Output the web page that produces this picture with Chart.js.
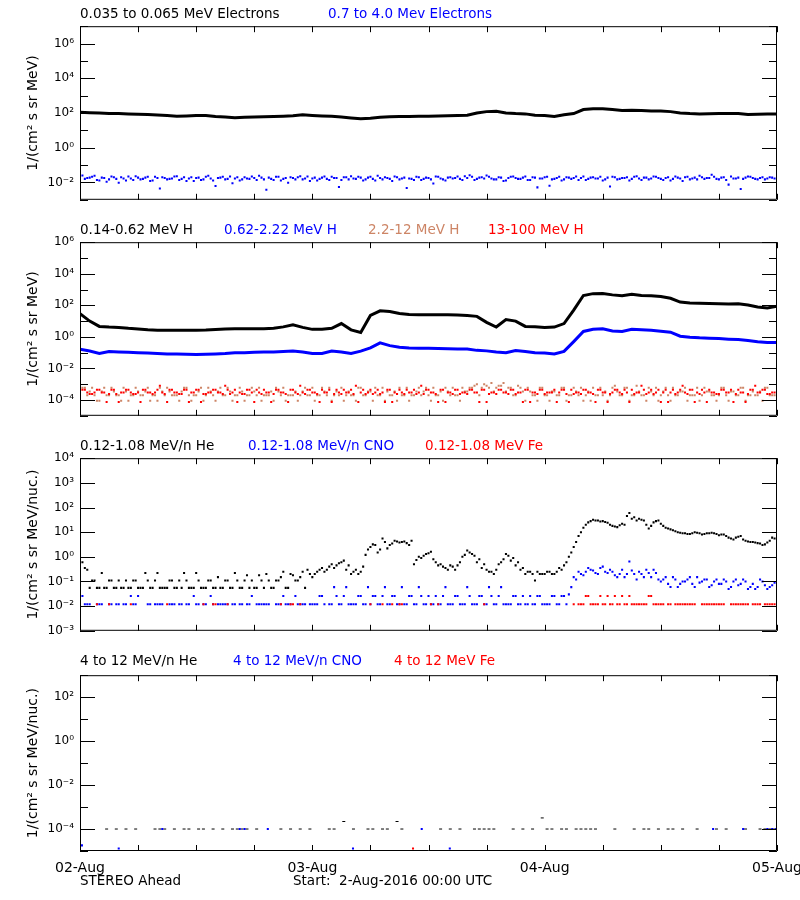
<!DOCTYPE html>
<html>
<head>
<meta charset="utf-8">
<script src="https://cdn.jsdelivr.net/npm/chart.js@4"></script>
<style>
body { margin: 0; background: #fff; }
#page { position: relative; width: 800px; height: 900px; overflow: hidden; }
canvas { position: absolute; left: 0; }
.lbl { position: absolute; white-space: pre; font-family: "DejaVu Sans", sans-serif; font-size: 13.5px; line-height: 13.5px; }
</style>
</head>
<body>
<div id="page">
  <canvas id="p1" width="800" height="200" style="top:13px"></canvas>
  <canvas id="p2" width="800" height="200" style="top:229px"></canvas>
  <canvas id="p3" width="800" height="199" style="top:445px"></canvas>
  <canvas id="p4" width="800" height="238" style="top:662px"></canvas>

  <div class="lbl" style="left:80px;top:7px;color:#000">0.035 to 0.065 MeV Electrons</div>
  <div class="lbl" style="left:328px;top:7px;color:#0000ff">0.7 to 4.0 Mev Electrons</div>

  <div class="lbl" style="left:80px;top:223px;color:#000">0.14-0.62 MeV H</div>
  <div class="lbl" style="left:224px;top:223px;color:#0000ff">0.62-2.22 MeV H</div>
  <div class="lbl" style="left:368px;top:223px;color:#cd8566">2.2-12 MeV H</div>
  <div class="lbl" style="left:488px;top:223px;color:#ff0000">13-100 MeV H</div>

  <div class="lbl" style="left:80px;top:439px;color:#000">0.12-1.08 MeV/n He</div>
  <div class="lbl" style="left:248px;top:439px;color:#0000ff">0.12-1.08 MeV/n CNO</div>
  <div class="lbl" style="left:425px;top:439px;color:#ff0000">0.12-1.08 MeV Fe</div>

  <div class="lbl" style="left:80px;top:654px;color:#000">4 to 12 MeV/n He</div>
  <div class="lbl" style="left:233px;top:654px;color:#0000ff">4 to 12 MeV/n CNO</div>
  <div class="lbl" style="left:394px;top:654px;color:#ff0000">4 to 12 MeV Fe</div>

  <div class="lbl" style="left:80px;top:874px;color:#000">STEREO Ahead</div>
  <div class="lbl" style="left:293px;top:874px;color:#000">Start:  2-Aug-2016 00:00 UTC</div>
</div>
<script>
// time axis: hours since 2-Aug-2016 00:00
const dayLabels = ['02-Aug', '03-Aug', '04-Aug', '05-Aug'];
const hourTimes = Array.from({length: 73}, (_, i) => i);
const halfHourStarts = Array.from({length: 144}, (_, i) => i / 2);
const halfHourTimes = Array.from({length: 144}, (_, i) => i / 2 + 0.25);

// panel 1 - electrons
const elecLow = [110,105,100,95,93,89,85,81,76,71,
  66,68,72,72,63,58,54,56,59,60,
  62,65,69,78,72,68,65,59,52,47,
  50,56,60,62,63,65,66,68,69,71,
  74,100,120,126,100,93,89,74,71,63,
  79,93,158,174,174,158,141,145,138,132,
  132,120,100,93,89,91,93,95,93,83,
  85,89,87];
const elecHigh = [0.025,0.018,0.021,0.014,0.019,0.011,0.022,0.016,0.02,0.013,
  0.017,0.023,0.015,0.019,0.012,0.021,0.0045,0.018,0.016,0.022,
  0.014,0.02,0.017,0.012,0.019,0.015,0.024,0.013,0.018,0.021,
  0.016,0.009,0.02,0.015,0.017,0.022,0.014,0.019,0.0038,0.016,
  0.021,0.013,0.018,0.02,0.015,0.023,0.017,0.012,0.019,0.016,
  0.022,0.014,0.018,0.0055,0.02,0.015,0.017,0.021,0.013,0.019,
  0.016,0.024,0.015,0.018,0.012,0.02,0.017,0.0048,0.016,0.021,
  0.014,0.019,0.015,0.022,0.017,0.013,0.02,0.018,0.016,0.023,
  0.026,0.014,0.019,0.017,0.021,0.015,0.02,0.012,0.018,0.022,
  0.016,0.019,0.014,0.02,0.0052,0.017,0.021,0.015,0.018,0.013,
  0.02,0.016,0.022,0.018,0.014,0.019,0.017,0.021,0.015,0.0058,
  0.02,0.016,0.018,0.013,0.021,0.017,0.019,0.015,0.022,0.018,
  0.014,0.02,0.016,0.019,0.012,0.021,0.017,0.015,0.02,0.018,
  0.028,0.016,0.019,0.014,0.022,0.017,0.0042,0.019,0.021,0.016,
  0.018,0.015,0.02,0.017];
const elecHighB = [0.021,0.016,0.019,0.024,0.013,0.018,0.015,0.02,0.0095,0.017,
  0.022,0.014,0.019,0.016,0.021,0.013,0.018,0.02,0.015,0.017,
  0.023,0.016,0.012,0.02,0.018,0.014,0.021,0.017,0.0062,0.019,
  0.015,0.022,0.017,0.013,0.02,0.016,0.018,0.024,0.015,0.019,
  0.014,0.021,0.016,0.0095,0.018,0.02,0.015,0.022,0.017,0.013,
  0.019,0.016,0.021,0.018,0.014,0.02,0.023,0.016,0.019,0.015,
  0.021,0.013,0.018,0.02,0.016,0.022,0.015,0.019,0.017,0.014,
  0.02,0.016,0.018,0.0088,0.021,0.015,0.019,0.017,0.022,0.014,
  0.018,0.021,0.016,0.02,0.025,0.017,0.015,0.019,0.013,0.021,
  0.018,0.016,0.022,0.014,0.019,0.017,0.02,0.0065,0.016,0.021,
  0.015,0.019,0.018,0.014,0.022,0.016,0.02,0.017,0.013,0.019,
  0.021,0.015,0.018,0.02,0.016,0.023,0.014,0.019,0.017,0.021,
  0.016,0.018,0.013,0.022,0.017,0.02,0.015,0.019,0.024,0.016,
  0.018,0.021,0.015,0.02,0.0075,0.017,0.019,0.016,0.022,0.018,
  0.015,0.02,0.017,0.019];

// panel 2 - protons
const protonA = [30,10,4.6,4.2,4.0,3.5,3.2,2.8,2.6,2.6,
  2.6,2.6,2.6,2.7,2.9,3.2,3.3,3.3,3.3,3.3,
  3.5,4.3,5.8,4.0,3.0,3.0,3.5,7.0,2.8,1.9,
  23,45,40,30,26,25,25,25,25,24,
  23,20,8.3,4.2,12.6,10,4.6,4.4,4.0,4.2,
  7,50,420,550,560,460,400,500,420,400,
  360,280,160,141,135,132,126,123,126,105,
  79,68,89];
const protonB = [0.166,0.126,0.089,0.12,0.112,0.105,0.1,0.095,0.089,0.083,
  0.083,0.079,0.076,0.079,0.083,0.089,0.1,0.1,0.105,0.11,
  0.112,0.117,0.126,0.112,0.089,0.089,0.126,0.112,0.089,0.126,
  0.2,0.42,0.28,0.22,0.2,0.19,0.19,0.186,0.178,0.174,
  0.17,0.14,0.13,0.11,0.1,0.135,0.12,0.1,0.095,0.083,
  0.12,0.5,2.2,3.0,3.3,2.4,2.2,3.0,2.8,2.6,
  2.3,2.0,1.1,0.95,0.87,0.83,0.78,0.72,0.68,0.6,
  0.5,0.44,0.44];
const protonC = [6e-4,2e-4,6e-4,9e-5,3.5e-4,2e-4,6e-4,2e-4,9e-5,3.5e-4,
  2e-4,6e-4,2e-4,3.5e-4,9e-5,2e-4,6e-4,2e-4,3.5e-4,2e-4,
  9e-5,6e-4,2e-4,2e-4,3.5e-4,9e-5,6e-4,2e-4,3.5e-4,2e-4,
  6e-4,9e-5,2e-4,3.5e-4,2e-4,6e-4,2e-4,9e-5,2e-4,3.5e-4,
  6e-4,2e-4,9e-5,2e-4,3.5e-4,2e-4,6e-4,2e-4,9e-5,2e-4,
  3.5e-4,6e-4,2e-4,2e-4,9e-5,3.5e-4,2e-4,6e-4,2e-4,3.5e-4,
  9e-5,2e-4,6e-4,3.5e-4,2e-4,9e-5,2e-4,6e-4,2e-4,3.5e-4,
  2e-4,6e-4,9e-5,2e-4,3.5e-4,6e-4,2e-4,2e-4,9e-5,3.5e-4,
  6e-4,8e-4,2e-4,1e-3,6e-4,3.5e-4,8e-4,1.2e-3,6e-4,2e-4,
  8e-4,3.5e-4,6e-4,2e-4,9e-5,6e-4,2e-4,3.5e-4,2e-4,6e-4,
  9e-5,2e-4,3.5e-4,6e-4,2e-4,9e-5,2e-4,6e-4,3.5e-4,2e-4,
  8e-4,2e-4,6e-4,9e-5,2e-4,3.5e-4,2e-4,6e-4,2e-4,9e-5,
  3.5e-4,2e-4,6e-4,2e-4,3.5e-4,9e-5,2e-4,6e-4,2e-4,3.5e-4,
  2e-4,9e-5,6e-4,2e-4,3.5e-4,2e-4,6e-4,9e-5,2e-4,2e-4,
  3.5e-4,6e-4,2e-4,2e-4];
const protonCB = [2e-4,6e-4,3.5e-4,2e-4,9e-5,6e-4,2e-4,3.5e-4,2e-4,6e-4,
  9e-5,2e-4,3.5e-4,2e-4,6e-4,2e-4,9e-5,3.5e-4,6e-4,2e-4,
  2e-4,3.5e-4,6e-4,9e-5,2e-4,6e-4,2e-4,3.5e-4,9e-5,6e-4,
  2e-4,3.5e-4,2e-4,6e-4,9e-5,2e-4,3.5e-4,6e-4,2e-4,2e-4,
  9e-5,3.5e-4,6e-4,2e-4,2e-4,9e-5,3.5e-4,2e-4,6e-4,2e-4,
  6e-4,2e-4,9e-5,3.5e-4,6e-4,2e-4,2e-4,9e-5,6e-4,2e-4,
  3.5e-4,6e-4,2e-4,9e-5,2e-4,3.5e-4,6e-4,2e-4,9e-5,2e-4,
  6e-4,3.5e-4,2e-4,6e-4,2e-4,9e-5,3.5e-4,6e-4,2e-4,6e-4,
  3.5e-4,6e-4,1e-3,6e-4,8e-4,1.2e-3,6e-4,8e-4,3.5e-4,6e-4,
  2e-4,6e-4,9e-5,3.5e-4,2e-4,6e-4,2e-4,9e-5,3.5e-4,2e-4,
  6e-4,2e-4,6e-4,2e-4,9e-5,3.5e-4,6e-4,2e-4,2e-4,9e-5,
  6e-4,3.5e-4,2e-4,6e-4,2e-4,8e-4,2e-4,9e-5,3.5e-4,6e-4,
  2e-4,6e-4,9e-5,2e-4,3.5e-4,6e-4,2e-4,2e-4,9e-5,6e-4,
  3.5e-4,2e-4,2e-4,6e-4,9e-5,3.5e-4,2e-4,6e-4,2e-4,3.5e-4,
  2e-4,9e-5,6e-4,2e-4];
const protonD = [4.5e-4,3e-4,2.4e-4,4.5e-4,3e-4,7.5e-5,4.5e-4,2.4e-4,3e-4,4.5e-4,
  3e-4,2.4e-4,7.5e-5,4.5e-4,3e-4,3e-4,8e-4,2.4e-4,4.5e-4,3e-4,
  2.4e-4,4.5e-4,7.5e-5,3e-4,4.5e-4,2.4e-4,3e-4,4.5e-4,3e-4,2.4e-4,
  4.5e-4,3e-4,7.5e-5,2.4e-4,4.5e-4,3e-4,4.5e-4,2.4e-4,3e-4,7.5e-5,
  4.5e-4,3e-4,2.4e-4,4.5e-4,3e-4,8e-4,2.4e-4,4.5e-4,3e-4,7.5e-5,
  3e-4,4.5e-4,2.4e-4,3e-4,4.5e-4,3e-4,2.4e-4,7.5e-5,4.5e-4,3e-4,
  2.4e-4,4.5e-4,3e-4,4.5e-4,7.5e-5,2.4e-4,3e-4,4.5e-4,3e-4,2.4e-4,
  8e-4,4.5e-4,3e-4,2.4e-4,4.5e-4,7.5e-5,3e-4,4.5e-4,2.4e-4,3e-4,
  4.5e-4,3e-4,7.5e-5,4.5e-4,2.4e-4,3e-4,4.5e-4,3e-4,2.4e-4,4.5e-4,
  3e-4,7.5e-5,4.5e-4,3e-4,2.4e-4,4.5e-4,3e-4,3e-4,7.5e-5,4.5e-4,
  2.4e-4,4.5e-4,3e-4,2.4e-4,4.5e-4,3e-4,7.5e-5,4.5e-4,3e-4,2.4e-4,
  4.5e-4,3e-4,4.5e-4,7.5e-5,2.4e-4,3e-4,4.5e-4,3e-4,2.4e-4,4.5e-4,
  3e-4,7.5e-5,4.5e-4,3e-4,8e-4,2.4e-4,4.5e-4,3e-4,4.5e-4,7.5e-5,
  3e-4,2.4e-4,4.5e-4,3e-4,4.5e-4,2.4e-4,3e-4,7.5e-5,4.5e-4,8e-4,
  3e-4,4.5e-4,2.4e-4,3e-4];
const protonDB = [3e-4,4.5e-4,2.4e-4,3e-4,4.5e-4,3e-4,2.4e-4,4.5e-4,7.5e-5,3e-4,
  4.5e-4,2.4e-4,3e-4,4.5e-4,3e-4,2.4e-4,4.5e-4,3e-4,7.5e-5,4.5e-4,
  3e-4,2.4e-4,4.5e-4,3e-4,4.5e-4,7.5e-5,2.4e-4,3e-4,4.5e-4,3e-4,
  8e-4,2.4e-4,4.5e-4,3e-4,2.4e-4,4.5e-4,7.5e-5,3e-4,4.5e-4,3e-4,
  2.4e-4,4.5e-4,3e-4,7.5e-5,4.5e-4,2.4e-4,3e-4,4.5e-4,3e-4,2.4e-4,
  4.5e-4,3e-4,7.5e-5,4.5e-4,2.4e-4,3e-4,4.5e-4,8e-4,3e-4,2.4e-4,
  4.5e-4,3e-4,2.4e-4,7.5e-5,4.5e-4,3e-4,4.5e-4,2.4e-4,3e-4,4.5e-4,
  3e-4,2.4e-4,4.5e-4,3e-4,7.5e-5,4.5e-4,3e-4,2.4e-4,4.5e-4,3e-4,
  2.4e-4,4.5e-4,3e-4,4.5e-4,7.5e-5,3e-4,2.4e-4,4.5e-4,3e-4,4.5e-4,
  2.4e-4,3e-4,4.5e-4,7.5e-5,3e-4,4.5e-4,2.4e-4,3e-4,4.5e-4,3e-4,
  4.5e-4,7.5e-5,2.4e-4,3e-4,4.5e-4,3e-4,2.4e-4,4.5e-4,3e-4,7.5e-5,
  3e-4,4.5e-4,2.4e-4,3e-4,4.5e-4,3e-4,8e-4,2.4e-4,4.5e-4,3e-4,
  7.5e-5,4.5e-4,3e-4,2.4e-4,4.5e-4,3e-4,4.5e-4,7.5e-5,2.4e-4,3e-4,
  4.5e-4,3e-4,2.4e-4,4.5e-4,3e-4,7.5e-5,4.5e-4,3e-4,2.4e-4,4.5e-4,
  3e-4,4.5e-4,2.4e-4,3e-4];

// panel 3 - low energy heavy ions
const heLow = [0.6,0.3,
  0.11,0.055,0.22,0.055,0.11,0.055,0.055,0.11,0.055,0.11,
  0.055,0.22,0.055,0.11,0.055,0.055,0.11,0.055,0.11,0.22,
  0.055,0.055,0.11,0.055,0.11,0.055,0.15,0.055,0.11,0.055,
  0.11,0.055,0.18,0.11,0.055,0.11,0.2,0.055,0.11,0.15,
  0.055,0.2,0.11,0.15,0.055,0.2,
  0.2,0.3,0.25,0.4,0.35,0.55,0.7,0.45,0.25,0.2,
  0.4,2.0,3.2,1.5,5.5,2.2,3.5,4.2,4.0,3.6,
  4.5,0.75,0.9,1.3,1.6,0.6,0.5,0.35,0.45,0.3,
  0.6,1.2,1.5,1.1,0.8,0.5,0.25,0.2,0.5,0.8,
  1.1,0.9,0.6,0.35,0.25,0.2,0.25,0.2,0.25,0.2,
  0.25,0.3,
  0.6,1.5,4,10,20,28,30,27,26,20,
  17,19,20,60,40,35,30,14,25,30,
  18,14,12,10,9,8.5,9,9.5,8,9,
  9.5,8.5,8,7,5.5,6,7,4.5,4,3.8,
  3.5,3.2,4.5,5.5];
const heLowB = [0.8,0.35,
  0.055,0.11,0.055,0.055,0.11,0.055,0.11,0.055,0.055,0.11,
  0.055,0.055,0.11,0.055,0.22,0.055,0.055,0.11,0.055,0.055,
  0.11,0.055,0.22,0.055,0.055,0.11,0.055,0.055,0.11,0.055,
  0.22,0.055,0.11,0.055,0.055,0.18,0.055,0.11,0.055,0.11,
  0.25,0.055,0.18,0.11,0.25,0.3,
  0.15,0.25,0.35,0.3,0.5,0.45,0.6,0.3,0.2,0.3,
  0.25,1.2,2.5,3.0,2.0,4.0,3.0,4.5,3.8,4.2,
  3.0,0.5,1.0,1.1,1.4,0.8,0.45,0.4,0.3,0.4,
  0.45,1.0,1.8,1.3,0.6,0.35,0.3,0.25,0.3,0.6,
  1.3,0.7,0.45,0.3,0.2,0.25,0.11,0.2,0.2,0.25,
  0.2,0.35,
  0.45,1.0,2.5,7,15,25,32,30,28,24,
  18,16,22,45,35,30,32,20,18,28,
  22,15,13,11,9.5,9,8.5,10,9,8.5,
  9,9,7.5,8,6,5,6.5,5,4.2,4,
  3.6,3,3.8,6];
const cnoLow = [0.026,0.012,null,0.012,0.012,null,0.012,0.012,null,0.012,
  0.026,0.012,null,null,0.012,0.012,0.012,null,0.012,0.012,
  0.012,null,0.012,0.026,0.012,0.012,null,0.012,0.012,0.012,
  0.012,0.012,null,0.012,0.012,0.026,0.012,0.012,0.012,null,
  0.012,0.012,0.012,0.012,0.026,0.012,0.012,0.012,
  0.012,0.026,0.012,0.012,0.059,0.012,0.026,0.012,0.012,0.026,
  0.012,0.059,0.026,0.012,0.026,0.012,0.026,0.012,0.059,0.012,
  0.026,0.012,0.026,0.012,0.012,0.026,0.012,0.059,0.012,0.026,
  0.012,0.012,0.026,0.012,0.026,0.012,0.059,0.012,0.026,0.012,
  0.012,0.026,0.012,0.026,0.012,0.012,0.026,0.012,0.012,0.026,
  0.012,0.026,
  0.012,0.059,0.12,0.2,0.25,0.3,0.22,0.35,0.25,0.3,
  0.18,0.2,0.15,0.65,0.2,0.25,0.15,0.22,0.3,0.12,
  0.12,0.08,0.15,0.06,0.1,0.12,0.08,0.15,0.1,0.12,
  0.07,0.12,0.08,0.1,0.06,0.12,0.08,0.1,0.06,0.05,
  0.12,0.07,0.06,0.09];
const cnoLowB = [null,0.012,0.012,null,0.012,null,0.012,null,0.012,0.012,
  null,0.012,0.026,null,0.012,null,0.012,0.012,null,0.012,
  null,0.012,0.012,null,0.012,null,0.012,0.026,null,0.012,
  0.012,null,0.012,0.012,null,0.012,null,0.012,0.012,0.012,
  null,0.012,0.026,0.012,null,0.012,0.012,null,
  0.012,0.012,0.026,null,0.012,0.026,0.012,0.059,0.012,0.012,
  0.026,0.012,0.012,0.026,0.012,0.059,0.012,0.026,0.012,0.012,
  0.026,0.012,0.059,0.012,0.026,0.012,0.012,0.026,0.012,0.012,
  0.026,0.012,0.059,0.012,0.012,0.026,0.012,0.026,0.012,0.059,
  0.012,0.012,0.026,0.012,0.012,0.026,0.012,0.026,0.012,0.012,
  0.026,0.012,
  0.026,0.03,0.15,0.25,0.18,0.35,0.28,0.2,0.4,0.22,
  0.25,0.15,0.3,0.2,0.28,0.12,0.2,0.3,0.15,0.22,
  0.1,0.15,0.06,0.12,0.08,0.1,0.15,0.06,0.09,0.12,
  0.06,0.1,0.08,0.12,0.05,0.1,0.07,0.12,0.05,0.08,
  0.06,0.1,0.05,0.07];
const feLow = [null,null,null,0.012,null,null,null,null,null,null,
  0.012,null,null,null,null,null,null,null,null,null,
  null,null,null,null,null,0.012,null,0.012,null,null,
  0.012,null,null,null,null,null,null,null,null,null,
  null,0.012,null,0.012,null,0.012,null,null,null,null,
  null,null,null,null,null,null,null,null,null,null,
  null,null,0.012,null,0.012,null,0.012,null,null,null,
  null,null,0.012,null,null,null,null,null,null,null,
  null,null,null,0.012,null,null,null,null,null,null,
  null,null,null,null,null,null,null,null,null,null,
  null,null,null,0.012,0.026,0.012,0.012,0.026,0.012,0.012,
  0.026,0.012,0.012,0.026,0.012,0.012,0.012,0.026,0.012,0.012,
  0.012,0.012,null,0.012,0.012,0.012,0.012,null,0.012,0.012,
  0.012,0.012,0.012,null,0.012,0.012,0.012,0.012,null,0.012,
  0.012,0.012,0.012,0.012];
const feLowB = [null,null,null,null,null,null,0.012,null,null,null,
  null,null,null,null,null,null,null,null,0.012,null,
  null,null,null,null,null,null,null,null,0.012,null,
  null,null,null,null,null,null,null,null,null,null,
  null,null,null,null,0.012,null,null,null,null,null,
  null,null,null,null,null,null,null,null,null,null,
  0.012,null,null,null,null,null,0.012,null,null,null,
  null,null,null,null,0.012,null,null,null,null,null,
  null,null,null,null,null,null,null,null,null,null,
  null,null,null,null,null,null,null,null,null,null,
  null,null,0.012,0.012,0.012,0.026,0.012,0.012,0.012,0.026,
  0.012,0.012,0.026,0.012,0.012,0.012,0.012,0.012,0.026,0.012,
  0.012,null,0.012,0.012,0.012,0.012,0.012,0.012,null,0.012,
  0.012,0.012,0.012,0.012,null,0.012,0.012,0.012,0.012,0.012,
  0.012,null,0.012,0.012];

// panel 4 - high energy heavy ions
const heHigh = [null,null,null,null,null,1e-4,null,1e-4,null,1e-4,
  null,1e-4,null,null,null,1e-4,1e-4,1e-4,null,1e-4,
  null,1e-4,1e-4,null,1e-4,1e-4,null,1e-4,null,1e-4,
  null,1e-4,1e-4,1e-4,1e-4,null,1e-4,null,null,null,
  null,1e-4,null,1e-4,null,1e-4,null,1e-4,null,null,
  null,1e-4,1e-4,null,2.2e-4,null,1e-4,null,null,1e-4,
  1e-4,null,1e-4,1e-4,null,2.2e-4,1e-4,null,null,null,
  null,null,null,null,1e-4,null,1e-4,null,1e-4,null,
  null,1e-4,1e-4,1e-4,1e-4,1e-4,null,null,null,1e-4,
  null,1e-4,null,1e-4,null,3.2e-4,1e-4,1e-4,null,1e-4,
  1e-4,null,1e-4,1e-4,1e-4,1e-4,1e-4,null,null,null,
  1e-4,null,null,null,1e-4,null,1e-4,1e-4,null,1e-4,
  null,1e-4,1e-4,null,1e-4,null,null,1e-4,null,null,
  null,1e-4,null,1e-4,null,null,null,1e-4,null,null,
  1e-4,1e-4,1e-4,1e-4];
const cnoHighHours = [0.2, 4.0, 8.5, 16.5, 17.0, 19.4, 28.2, 35.3, 38.2, 65.4, 68.5, 71.0, 71.5, 71.9];
const cnoHigh = [1.8e-5, 1.3e-5, 1e-4, 1e-4, 1e-4, 1e-4, 1.3e-5, 1e-4, 1.3e-5, 1e-4, 1e-4, 1e-4, 1e-4, 1e-4];
const feHighHours = [34.4];
const feHigh = [1.3e-5];

const BLUE = '#0000ff', RED = '#ff0000', TAN = '#cd8566', BLACK = '#000000';
const SUP = {'-': '\u207b', '0': '\u2070', '1': '\u00b9', '2': '\u00b2', '3': '\u00b3', '4': '\u2074',
  '5': '\u2075', '6': '\u2076', '7': '\u2077', '8': '\u2078', '9': '\u2079'};

function powLabel(e) {
  return '10' + String(e).split('').map(c => SUP[c]).join('');
}

function series(times, values) {
  return values.map((v, i) => ({x: times[i], y: v}));
}

function dots(label, data, color, style) {
  return {
    label: label,
    data: data,
    pointStyle: style || 'rect',
    pointRadius: style === 'line' ? 1.5 : 1.45,
    pointBorderWidth: style === 'line' ? 1 : 0,
    pointBackgroundColor: color,
    pointBorderColor: color,
    showLine: false
  };
}

function trace(label, data, color) {
  return {
    label: label,
    data: data,
    showLine: true,
    borderColor: color,
    borderWidth: 3,
    pointRadius: 0,
    fill: false
  };
}

// box with inward ticks on all four sides, IDL style
const idlFrame = {
  id: 'idlFrame',
  afterDatasetsDraw(chart) {
    const {ctx, chartArea: a, scales: {x, y}} = chart;
    ctx.save();
    ctx.strokeStyle = '#000';
    ctx.lineWidth = 1;
    ctx.beginPath();
    ctx.rect(a.left + 0.5, a.top + 0.5, a.right - a.left - 1, a.bottom - a.top - 1);
    x.ticks.forEach(t => {
      const px = Math.round(x.getPixelForValue(t.value)) + 0.5;
      ctx.moveTo(px, a.top);
      ctx.lineTo(px, a.top + 6);
      ctx.moveTo(px, a.bottom);
      ctx.lineTo(px, a.bottom - 6);
    });
    y.ticks.forEach(t => {
      const py = Math.round(y.getPixelForValue(t.value)) + 0.5;
      const len = t.label ? 15 : 8;
      ctx.moveTo(a.left, py);
      ctx.lineTo(a.left + len, py);
      ctx.moveTo(a.right, py);
      ctx.lineTo(a.right - len, py);
    });
    ctx.stroke();
    ctx.restore();
  }
};

function makePanel(id, decades, labelled, yTitle, datasets, showX, xHeight) {
  return new Chart(document.getElementById(id), {
    type: 'scatter',
    data: {datasets: datasets},
    options: {
      responsive: false,
      animation: false,
      layout: {padding: {left: 0, right: 23, top: 10, bottom: 0}},
      plugins: {legend: {display: false}, tooltip: {enabled: false}},
      scales: {
        x: {
          type: 'linear', min: 0, max: 72,
          grid: {display: false, drawTicks: false},
          border: {display: false},
          ticks: {
            display: showX, stepSize: 6, autoSkip: false, maxRotation: 0, padding: 9,
            color: '#000', font: {family: 'DejaVu Sans', size: 14},
            callback: v => (v % 24 === 0 ? dayLabels[v / 24] : '')
          },
          afterFit: s => { s.height = xHeight; s.paddingLeft = 0; s.paddingRight = 0; }
        },
        y: {
          type: 'logarithmic',
          min: Math.pow(10, decades[0]),
          max: Math.pow(10, decades[decades.length - 1]),
          grid: {display: false, drawTicks: false},
          border: {display: false},
          afterBuildTicks: s => { s.ticks = decades.map(e => ({value: Math.pow(10, e)})); },
          ticks: {
            autoSkip: false, padding: 6, color: '#000',
            font: {family: 'DejaVu Sans', size: 12},
            callback: v => {
              const e = Math.round(Math.log10(v));
              return labelled.includes(e) ? powLabel(e) : '';
            }
          },
          title: {
            display: true, text: yTitle, color: '#000',
            font: {family: 'DejaVu Sans', size: 14},
            padding: {top: 25, bottom: 0}
          },
          afterFit: s => { s.width = 80; }
        }
      }
    },
    plugins: [idlFrame]
  });
}

const unitMeV = '1/(cm\u00b2 s sr MeV)';
const unitNuc = '1/(cm\u00b2 s sr MeV/nuc.)';

makePanel('p1', [-3,-2,-1,0,1,2,3,4,5,6,7], [-2,0,2,4,6], unitMeV, [
  trace('0.035 to 0.065 MeV Electrons', series(hourTimes, elecLow), BLACK),
  dots('0.7 to 4.0 Mev Electrons',
    series(halfHourTimes, elecHigh).concat(series(halfHourStarts, elecHighB)), BLUE)
], false, 10);

makePanel('p2', [-5,-4,-3,-2,-1,0,1,2,3,4,5,6], [-4,-2,0,2,4,6], unitMeV, [
  trace('0.14-0.62 MeV H', series(hourTimes, protonA), BLACK),
  trace('0.62-2.22 MeV H', series(hourTimes, protonB), BLUE),
  dots('13-100 MeV H',
    series(halfHourTimes, protonD).concat(series(halfHourStarts, protonDB)), RED),
  dots('2.2-12 MeV H',
    series(halfHourTimes, protonC).concat(series(halfHourStarts, protonCB)), TAN)
], false, 10);

makePanel('p3', [-3,-2,-1,0,1,2,3,4], [-3,-2,-1,0,1,2,3,4], unitNuc, [
  dots('0.12-1.08 MeV/n He',
    series(halfHourTimes, heLow).concat(series(halfHourStarts, heLowB)), BLACK),
  dots('0.12-1.08 MeV Fe',
    series(halfHourTimes, feLow).concat(series(halfHourStarts, feLowB)), RED),
  dots('0.12-1.08 MeV/n CNO',
    series(halfHourTimes, cnoLow).concat(series(halfHourStarts, cnoLowB)), BLUE)
], false, 10);

makePanel('p4', [-5,-4,-3,-2,-1,0,1,2,3], [-4,-2,0,2], unitNuc, [
  dots('4 to 12 MeV Fe', series(feHighHours, feHigh), RED),
  dots('4 to 12 MeV/n CNO', series(cnoHighHours, cnoHigh), BLUE),
  dots('4 to 12 MeV/n He', series(halfHourTimes, heHigh), BLACK, 'line')
], true, 49);
</script>
</body>
</html>
